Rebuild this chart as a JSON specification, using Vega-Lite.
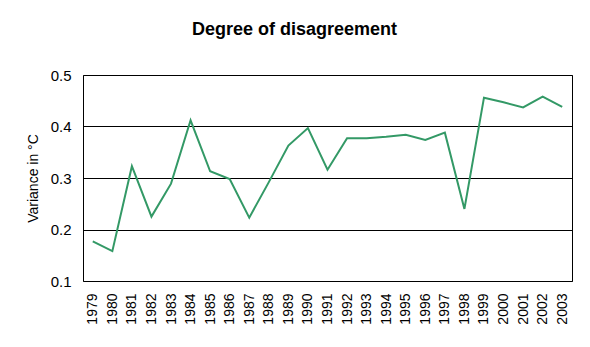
{
  "$schema": "https://vega.github.io/schema/vega-lite/v6.json",
  "width": 489,
  "height": 206,
  "autosize": {"type": "none"},
  "padding": {"left": 83, "top": 75, "right": 18, "bottom": 66},
  "background": "white",
  "title": {
    "text": "Degree of disagreement",
    "font": "Liberation Sans",
    "fontSize": 18,
    "fontWeight": "bold",
    "color": "black",
    "anchor": "middle",
    "dx": -33,
    "offset": 29
  },
  "config": {
    "view": {"stroke": "black", "strokeWidth": 1},
    "axis": {"labelFont": "Liberation Sans", "titleFont": "Liberation Sans", "labelColor": "black", "titleColor": "black"}
  },
  "data": {
    "values": [
      {"year": "1979", "variance": 0.177},
      {"year": "1980", "variance": 0.158},
      {"year": "1981", "variance": 0.323},
      {"year": "1982", "variance": 0.225},
      {"year": "1983", "variance": 0.289},
      {"year": "1984", "variance": 0.412},
      {"year": "1985", "variance": 0.313},
      {"year": "1986", "variance": 0.298},
      {"year": "1987", "variance": 0.223},
      {"year": "1988", "variance": 0.292},
      {"year": "1989", "variance": 0.363},
      {"year": "1990", "variance": 0.397},
      {"year": "1991", "variance": 0.316},
      {"year": "1992", "variance": 0.377},
      {"year": "1993", "variance": 0.377},
      {"year": "1994", "variance": 0.380},
      {"year": "1995", "variance": 0.384},
      {"year": "1996", "variance": 0.374},
      {"year": "1997", "variance": 0.388},
      {"year": "1998", "variance": 0.240},
      {"year": "1999", "variance": 0.456},
      {"year": "2000", "variance": 0.447},
      {"year": "2001", "variance": 0.437},
      {"year": "2002", "variance": 0.458},
      {"year": "2003", "variance": 0.438}
    ]
  },
  "mark": {"type": "line", "color": "#339966", "strokeWidth": 2},
  "encoding": {
    "x": {
      "field": "year",
      "type": "ordinal",
      "scale": {"type": "point", "padding": 0.5},
      "axis": {
        "title": null,
        "labelAngle": -90,
        "labelFontSize": 14,
        "labelPadding": 12,
        "ticks": false,
        "domain": false,
        "grid": false
      }
    },
    "y": {
      "field": "variance",
      "type": "quantitative",
      "scale": {"domain": [0.1, 0.5], "nice": false, "zero": false},
      "axis": {
        "title": "Variance in °C",
        "titleFontSize": 14,
        "titleFontWeight": "normal",
        "titlePadding": 10,
        "values": [0.1, 0.2, 0.3, 0.4, 0.5],
        "format": ".1f",
        "labelFontSize": 15,
        "labelPadding": 12,
        "ticks": false,
        "domain": false,
        "grid": true,
        "gridColor": "black",
        "gridOpacity": 1,
        "gridWidth": 1
      }
    }
  }
}
